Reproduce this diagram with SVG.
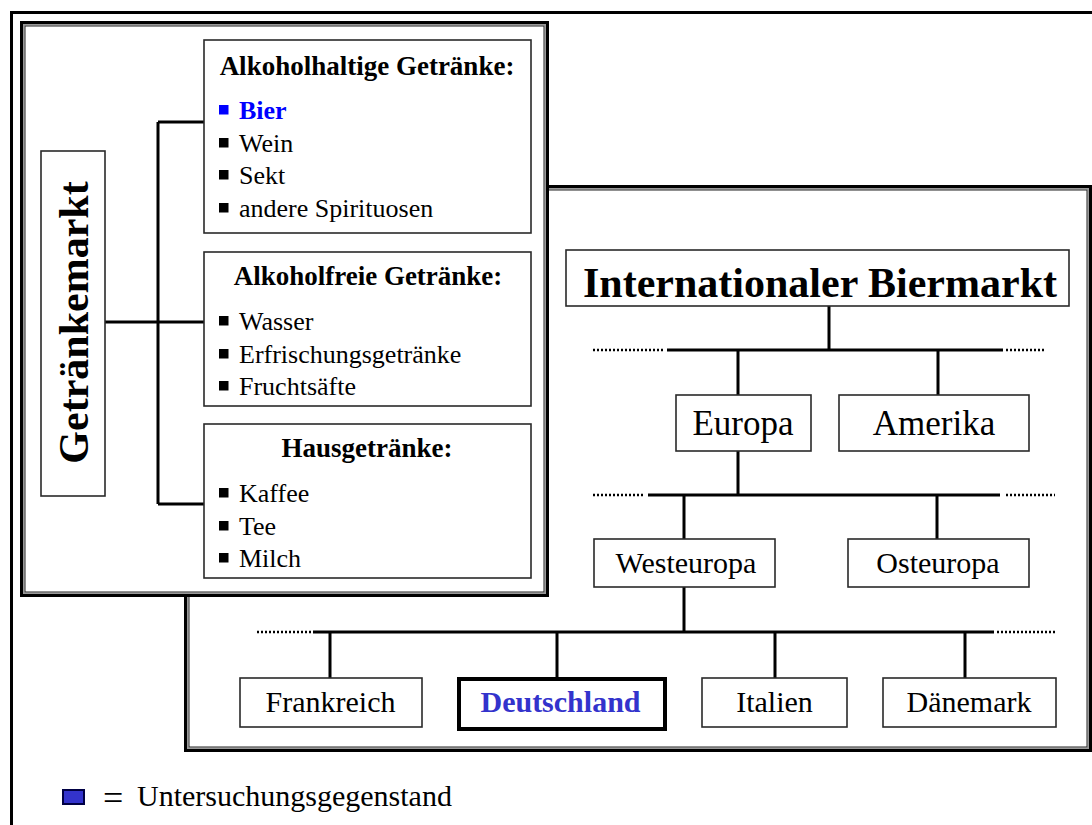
<svg xmlns="http://www.w3.org/2000/svg" width="1092" height="825" viewBox="0 0 1092 825">
  <style>
    text { font-family: "Liberation Serif", "Times New Roman", serif; fill: #000; }
    .box { fill: #fff; stroke: #2a2a2a; stroke-width: 1.6; }
    .hl { fill: #fff; stroke: #000; stroke-width: 4; }
    .f-out { fill: #fff; stroke: #000; stroke-width: 3; }
    .f-mid { fill: none; stroke: #999; stroke-width: 1.5; }
    .f-in { fill: none; stroke: #222; stroke-width: 1; }
    .ln { fill: none; stroke: #000; stroke-width: 3; }
    .dot { fill: none; stroke: #000; stroke-width: 2.5; stroke-dasharray: 2 2; }
    .ttl { font-size: 27px; font-weight: bold; text-anchor: middle; }
    .itm { font-size: 26px; }
    .bul { fill: #000; }
    .big { font-size: 42px; font-weight: bold; text-anchor: middle; }
    .reg { font-size: 35px; text-anchor: middle; }
    .sm { font-size: 30px; text-anchor: middle; }
  </style>

  <!-- page border (top and left edges) -->
  <path d="M11.5 825 V12.5 H1092" fill="none" stroke="#000" stroke-width="3"/>

  <!-- panel: international beer market -->
  <g id="panel-biermarkt">
    <rect class="f-out" x="185.5" y="186.5" width="905" height="564"/>
    <rect class="f-mid" x="187.75" y="188.75" width="900.5" height="559.5"/>
    <rect class="f-in" x="189" y="190" width="898" height="557"/>
  </g>

  <!-- panel: beverage market -->
  <g id="panel-getraenkemarkt">
    <rect class="f-out" x="21.5" y="22.5" width="526" height="573"/>
    <rect class="f-mid" x="23.75" y="24.75" width="521.5" height="568.5"/>
    <rect class="f-in" x="25" y="26" width="519" height="566"/>
  </g>

  <!-- connectors -->
  <g id="connectors">
    <path class="ln" d="M105 322 H158 M158 122 V504 M158 122 H204 M158 322 H204 M158 504 H204"/>
    <path class="ln" d="M829 306 V350 M667 350 H1003 M738 350 V395 M938 350 V395"/>
    <path class="dot" d="M593 350 H663 M1006 350 H1046"/>
    <path class="ln" d="M738 451 V495 M648 495 H1000 M684 495 V539 M937 495 V539"/>
    <path class="dot" d="M593 495 H645 M1006 495 H1055"/>
    <path class="ln" d="M684 587 V632 M313 632 H994 M330 632 V678 M557 632 V677 M775 632 V678 M965 632 V678"/>
    <path class="dot" d="M257 632 H311 M997 632 H1055"/>
  </g>

  <g id="getraenkemarkt">
    <rect class="box" x="41" y="151" width="64" height="345"/>
    <text class="big" transform="translate(88 322.5) rotate(-90)">Getränkemarkt</text>
  </g>

  <g id="alkoholhaltig">
    <rect class="box" x="204" y="40" width="327" height="193"/>
    <text class="ttl" x="367" y="75">Alkoholhaltige Getränke:</text>
    <rect x="219" y="105" width="9.5" height="9.5" fill="#0000ff"/>
    <text class="itm" x="239" y="119" font-weight="bold" style="fill:#0000ff">Bier</text>
    <rect class="bul" x="219" y="138" width="9.5" height="9.5"/>
    <text class="itm" x="239" y="152">Wein</text>
    <rect class="bul" x="219" y="170" width="9.5" height="9.5"/>
    <text class="itm" x="239" y="184">Sekt</text>
    <rect class="bul" x="219" y="203" width="9.5" height="9.5"/>
    <text class="itm" x="239" y="217">andere Spirituosen</text>
  </g>

  <g id="alkoholfrei">
    <rect class="box" x="204" y="252" width="327" height="154"/>
    <text class="ttl" x="368" y="285">Alkoholfreie Getränke:</text>
    <rect class="bul" x="219" y="316" width="9.5" height="9.5"/>
    <text class="itm" x="239" y="330">Wasser</text>
    <rect class="bul" x="219" y="349" width="9.5" height="9.5"/>
    <text class="itm" x="239" y="363">Erfrischungsgetränke</text>
    <rect class="bul" x="219" y="381" width="9.5" height="9.5"/>
    <text class="itm" x="239" y="395">Fruchtsäfte</text>
  </g>

  <g id="hausgetraenke">
    <rect class="box" x="204" y="424" width="327" height="154"/>
    <text class="ttl" x="367" y="457">Hausgetränke:</text>
    <rect class="bul" x="219" y="488" width="9.5" height="9.5"/>
    <text class="itm" x="239" y="502">Kaffee</text>
    <rect class="bul" x="219" y="521" width="9.5" height="9.5"/>
    <text class="itm" x="239" y="535">Tee</text>
    <rect class="bul" x="219" y="553" width="9.5" height="9.5"/>
    <text class="itm" x="239" y="567">Milch</text>
  </g>

  <g id="intl-biermarkt">
    <rect class="box" x="566" y="250" width="503" height="56"/>
    <text class="big" x="820" y="297">Internationaler Biermarkt</text>
  </g>

  <g id="europa">
    <rect class="box" x="676" y="395" width="135" height="56"/>
    <text class="reg" x="743" y="435">Europa</text>
  </g>

  <g id="amerika">
    <rect class="box" x="839" y="395" width="190" height="56"/>
    <text class="reg" x="934" y="435">Amerika</text>
  </g>

  <g id="westeuropa">
    <rect class="box" x="594" y="539" width="181" height="48"/>
    <text class="sm" x="686" y="573">Westeuropa</text>
  </g>

  <g id="osteuropa">
    <rect class="box" x="848" y="539" width="181" height="48"/>
    <text class="sm" x="938" y="573">Osteuropa</text>
  </g>

  <g id="frankreich">
    <rect class="box" x="240" y="678" width="182" height="49"/>
    <text class="sm" x="330.5" y="712">Frankreich</text>
  </g>

  <g id="deutschland">
    <rect class="hl" x="459" y="679" width="206" height="50"/>
    <text class="sm" x="560.5" y="712" font-weight="bold" style="fill:#3333cc">Deutschland</text>
  </g>

  <g id="italien">
    <rect class="box" x="702" y="678" width="145" height="49"/>
    <text class="sm" x="774.5" y="712">Italien</text>
  </g>

  <g id="daenemark">
    <rect class="box" x="883" y="678" width="173" height="49"/>
    <text class="sm" x="969" y="712">Dänemark</text>
  </g>

  <!-- legend -->
  <g id="legende">
    <rect x="63" y="790" width="21" height="14" fill="#3333cc" stroke="#000044" stroke-width="2"/>
    <text x="103" y="810" font-size="36">=</text>
    <text x="137" y="806" font-size="30">Untersuchungsgegenstand</text>
  </g>
</svg>
